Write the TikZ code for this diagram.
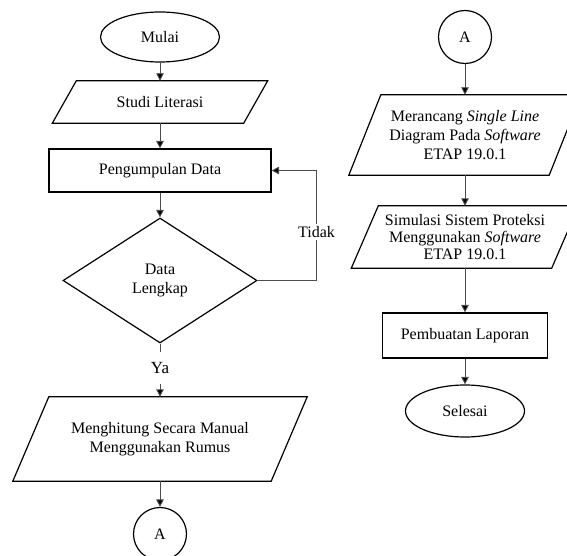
\documentclass[tikz,border=0pt]{standalone}
\usepackage{fontspec}
\setmainfont{Liberation Serif}
\usetikzlibrary{shapes.geometric,arrows.meta}
\newcommand\paraout[2]{\draw[shp] ([xshift=#2]#1.north west) -- ([xshift=#2]#1.north east) -- ([xshift=-#2]#1.south east) -- ([xshift=-#2]#1.south west) -- cycle;}
\begin{document}
\begin{tikzpicture}[x=1pt,y=-1pt,
  every node/.style={font=\fontsize{16}{18.5}\selectfont, align=center, inner sep=0pt},
  shp/.style={draw=black, line width=1.2pt, line join=miter},
  box/.style={draw=black, line width=1.2pt, rectangle},
  term/.style={draw=black, line width=1.2pt, ellipse, minimum width=119pt, minimum height=50pt},
  conn/.style={draw=black, line width=1.2pt, circle, minimum size=53pt},
  plain/.style={draw=black!70, line width=0.9pt},
  arr/.style={draw=black!70, line width=0.9pt, -{Triangle[length=7.5pt,width=7.5pt,fill=black]}}]
\useasboundingbox (0,0) rectangle (567,556);

% left column
\node[term] (mulai) at (160,37) {Mulai};
\node[minimum width=191pt, minimum height=42pt] (studi) at (160,102) {Studi Literasi};
\paraout{studi}{12pt}
\node[box, minimum width=222pt, minimum height=43pt] (peng) at (160,170.5) {Pengumpulan Data};
\node[draw=black, line width=1.2pt, diamond, minimum width=194pt, minimum height=125pt] (cek) at (160,280.5) {Data\\Lengkap};
\node[fill=white, minimum height=32pt, font=\fontsize{17}{19}\selectfont] (ya) at (160,368) {Ya};
\node[minimum width=258pt, minimum height=84pt] (mengh) at (160,439) {Menghitung Secara Manual\\Menggunakan Rumus};
\paraout{mengh}{18pt}
\node[conn] (a1) at (160,534) {A};

\draw[arr] (mulai.south) -- (studi.north);
\draw[arr] (studi.south) -- (peng.north);
\draw[arr] (peng.south) -- (cek.north);
\draw[plain] (cek.south) -- (ya.north);
\draw[arr] (ya.south) -- (mengh.north);
\draw[arr] (mengh.south) -- (a1.north);
\draw[arr] (cek.east) -- ++(59,0) coordinate (loop) |- node[pos=0.22, fill=white, inner sep=2pt] (tidak) {Tidak} (peng.east);

% right column
\node[conn] (a2) at (465,37) {A};
\node[minimum width=200pt, minimum height=80pt, font=\fontsize{16}{19}\selectfont] (mer) at (465,135) {Merancang \textit{Single Line}\\Diagram Pada \textit{Software}\\ETAP 19.0.1};
\paraout{mer}{16pt}
\node[minimum width=200pt, minimum height=62pt, font=\fontsize{16}{17}\selectfont] (sim) at (465,237) {Simulasi Sistem Proteksi\\Menggunakan \textit{Software}\\ETAP 19.0.1};
\paraout{sim}{13.5pt}
\node[box, minimum width=165pt, minimum height=45pt] (lap) at (465,335.5) {Pembuatan Laporan};
\node[term, minimum height=52pt] (sel) at (465,411) {Selesai};

\draw[arr] (a2.south) -- (mer.north);
\draw[arr] (mer.south) -- (sim.north);
\draw[arr] (sim.south) -- (lap.north);
\draw[arr] (lap.south) -- (sel.north);
\end{tikzpicture}
\end{document}
